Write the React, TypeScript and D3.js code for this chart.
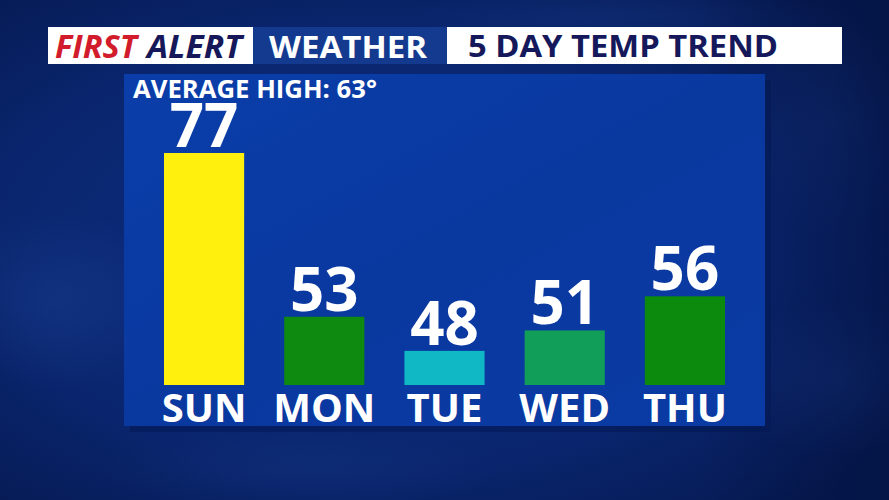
import React from 'react';
import * as d3 from 'd3';

// chart data
const days = ['SUN', 'MON', 'TUE', 'WED', 'THU'];
const highs = [77, 53, 48, 51, 56];
const barColors = ['#fff00e', '#0e8a10', '#10b8c5', '#119e58', '#0c8a0d'];
const averageHigh = 63;

const W = 889;
const H = 500;
const FONT = '"Open Sans", "DejaVu Sans", sans-serif';

// panel box
const panel = { x: 124, y: 74, w: 641, h: 352 };

export default function App() {
  // band scale for the five days, linear scale for temps (bars start from 43)
  const x = d3.scaleBand<string>().domain(days).range([164, 725]).paddingInner(1 / 3).paddingOuter(0);
  const y = d3.scaleLinear().domain([43, 77]).range([385, 153]);

  // some soft cloud blobs for the background
  const clouds = [
    { cx: 60, cy: 300, rx: 120, ry: 90, o: 0.22 },
    { cx: 830, cy: 120, rx: 90, ry: 120, o: 0.15 },
    { cx: 840, cy: 380, rx: 110, ry: 80, o: 0.18 },
    { cx: 300, cy: 470, rx: 200, ry: 40, o: 0.12 },
    { cx: 620, cy: 15, rx: 220, ry: 30, o: 0.15 },
  ];

  return (
    <svg width={W} height={H} style={{ position: 'absolute', left: 0, top: 0, display: 'block' }}>
      <defs>
        <radialGradient id="bg" cx="0.42" cy="0.5" r="0.7">
          <stop offset="0" stopColor="#0c2c80" />
          <stop offset="0.6" stopColor="#0a266f" />
          <stop offset="1" stopColor="#061a52" />
        </radialGradient>
        <linearGradient id="panelFill" x1="0" y1="0" x2="1" y2="1">
          <stop offset="0" stopColor="#0b3eaa" />
          <stop offset="0.5" stopColor="#09389f" />
          <stop offset="1" stopColor="#0a3ba4" />
        </linearGradient>
        <radialGradient id="cloud">
          <stop offset="0" stopColor="#2a55b0" stopOpacity="1" />
          <stop offset="1" stopColor="#2a55b0" stopOpacity="0" />
        </radialGradient>
        <linearGradient id="rightShade" x1="0" y1="0" x2="1" y2="0">
          <stop offset="0" stopColor="#000a30" stopOpacity="0" />
          <stop offset="1" stopColor="#000a30" stopOpacity="0.35" />
        </linearGradient>
      </defs>

      <rect width={W} height={H} fill="url(#bg)" />
      {clouds.map((c, i) => (
        <ellipse key={i} cx={c.cx} cy={c.cy} rx={c.rx} ry={c.ry} fill="url(#cloud)" opacity={c.o} />
      ))}
      <rect x={700} y={0} width={189} height={H} fill="url(#rightShade)" />

      {/* header */}
      <rect x={48} y={27} width={205} height={37} fill="#ffffff" />
      <rect x={253} y={27} width={194} height={37} fill="#133a8e" />
      <rect x={447} y={27} width={395} height={37} fill="#ffffff" />
      <text x={55} y={58} fontFamily={FONT} fontWeight={700} fontStyle="italic" fontSize={32}>
        <tspan fill="#d21c2c" textLength={82} lengthAdjust="spacingAndGlyphs">FIRST</tspan>
        <tspan fill="#16185a" dx={10} textLength={95} lengthAdjust="spacingAndGlyphs">ALERT</tspan>
      </text>
      <text x={269} y={58} fill="#ffffff" fontFamily={FONT} fontWeight={700} fontSize={31}
        textLength={158} lengthAdjust="spacingAndGlyphs">WEATHER</text>
      <text x={468} y={57} fill="#15185a" fontFamily={FONT} fontWeight={700} fontSize={31}
        textLength={310} lengthAdjust="spacingAndGlyphs">5 DAY TEMP TREND</text>

      {/* panel */}
      <rect x={panel.x + 6} y={panel.y + 6} width={panel.w} height={panel.h} fill="#031650" opacity={0.45} />
      <rect x={panel.x} y={panel.y} width={panel.w} height={panel.h} fill="url(#panelFill)" />

      <text x={133} y={98} fill="#ffffff" fontFamily={FONT} fontWeight={700} fontSize={25}
        textLength={244} lengthAdjust="spacingAndGlyphs">
        AVERAGE HIGH: {averageHigh}°
      </text>

      {days.map((d, i) => {
        const bx = x(d) as number;
        const bw = x.bandwidth();
        const top = y(highs[i]);
        return (
          <g key={d}>
            <rect x={bx} y={top} width={bw} height={y.range()[0] - top} fill={barColors[i]} />
            <text x={bx + bw / 2} y={top - 6} textAnchor="middle" fill="#ffffff"
              fontFamily={FONT} fontWeight={700} fontSize={60}>{highs[i]}</text>
            <text x={bx + bw / 2} y={422} textAnchor="middle" fill="#ffffff"
              fontFamily={FONT} fontWeight={700} fontSize={40}>{d}</text>
          </g>
        );
      })}
    </svg>
  );
}
